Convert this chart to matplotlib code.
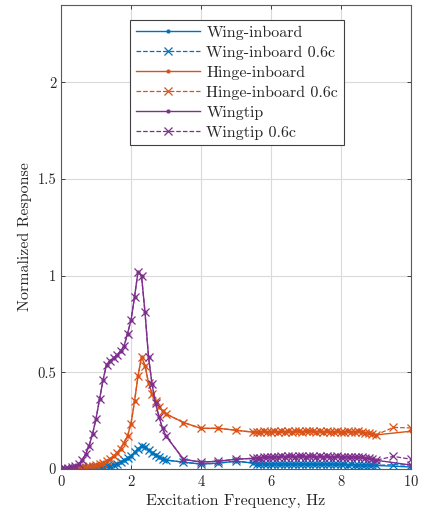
import matplotlib.pyplot as plt
import numpy as np

plt.rcParams['font.family'] = ['cmr10', 'DejaVu Serif']
plt.rcParams['axes.formatter.use_mathtext'] = True
plt.rcParams['mathtext.fontset'] = 'cm'

# excitation frequencies [Hz]
f_low = [0.0, 0.1, 0.2, 0.3, 0.4, 0.5, 0.6, 0.7, 0.8, 0.9, 1.0, 1.1, 1.2, 1.3, 1.4, 1.5,
         1.6, 1.7, 1.8, 1.9, 2.0, 2.1, 2.2, 2.3, 2.4, 2.5, 2.6, 2.7, 2.8, 2.9, 3.0]
f_mid = [3.5, 4.0, 4.5, 5.0]
f_dense = [5.5, 5.6, 5.7, 5.8, 5.9, 6.0, 6.1, 6.2, 6.3, 6.4, 6.5, 6.6, 6.7, 6.8, 6.9, 7.0,
           7.1, 7.2, 7.3, 7.4, 7.5, 7.6, 7.7, 7.8, 7.9, 8.0, 8.1, 8.2, 8.3, 8.4, 8.5, 8.6,
           8.7, 8.8, 8.9, 9.0]
f_end = [10.0]
f_end_06c = [9.5, 10.0]

# wing-inboard
wing_low = [0.0, 0.0, 0.0, 0.0, 0.002, 0.003, 0.004, 0.005, 0.006, 0.008, 0.009, 0.01, 0.011,
            0.013, 0.016, 0.02, 0.027, 0.035, 0.044, 0.055, 0.068, 0.085, 0.104, 0.12, 0.115,
            0.097, 0.083, 0.072, 0.062, 0.053, 0.046]
wing_mid = [0.035, 0.025, 0.03, 0.04]
wing_dense = [0.03, 0.028, 0.027, 0.028, 0.026, 0.027, 0.028, 0.026, 0.025, 0.027, 0.026, 0.025,
              0.026, 0.027, 0.025, 0.024, 0.026, 0.025, 0.024, 0.025, 0.026, 0.024, 0.023, 0.025,
              0.024, 0.023, 0.024, 0.022, 0.023, 0.022, 0.021, 0.022, 0.02, 0.021, 0.019, 0.018]
wing_end = [0.01]
wing_end_06c = [0.022, 0.02]

# hinge-inboard
hinge_low = [0.0, 0.0, 0.0, 0.002, 0.004, 0.005, 0.008, 0.01, 0.013, 0.016, 0.02, 0.025, 0.032,
             0.042, 0.053, 0.067, 0.083, 0.105, 0.135, 0.17, 0.235, 0.35, 0.48, 0.58, 0.535,
             0.445, 0.39, 0.35, 0.32, 0.3, 0.285]
hinge_mid = [0.24, 0.21, 0.21, 0.2]
hinge_dense = [0.19, 0.192, 0.19, 0.194, 0.191, 0.193, 0.195, 0.192, 0.194, 0.193, 0.195, 0.192,
               0.194, 0.196, 0.193, 0.195, 0.197, 0.194, 0.193, 0.195, 0.192, 0.194, 0.193, 0.191,
               0.194, 0.192, 0.193, 0.195, 0.191, 0.193, 0.194, 0.19, 0.188, 0.186, 0.182, 0.176]
hinge_end = [0.195]
hinge_end_06c = [0.215, 0.212]

# wingtip
tip_low = [0.0, 0.0, 0.004, 0.008, 0.015, 0.025, 0.045, 0.075, 0.12, 0.18, 0.26, 0.36, 0.46,
           0.54, 0.56, 0.575, 0.59, 0.61, 0.635, 0.7, 0.77, 0.89, 1.02, 1.0, 0.81, 0.58, 0.44,
           0.34, 0.27, 0.21, 0.17]
tip_mid = [0.05, 0.035, 0.04, 0.05]
tip_dense = [0.055, 0.057, 0.059, 0.06, 0.061, 0.062, 0.064, 0.063, 0.065, 0.064, 0.066, 0.065,
             0.064, 0.066, 0.065, 0.064, 0.066, 0.065, 0.063, 0.065, 0.064, 0.066, 0.064, 0.063,
             0.065, 0.064, 0.063, 0.064, 0.062, 0.063, 0.061, 0.06, 0.058, 0.055, 0.05, 0.045]
tip_end = [0.02]
tip_end_06c = [0.065, 0.05]

freq = f_low + f_mid + f_dense + f_end
freq_06c = f_low + f_mid + f_dense + f_end_06c

series = [
    ('Wing-inboard', '#0072BD', wing_low + wing_mid + wing_dense, wing_end, wing_end_06c),
    ('Hinge-inboard', '#D95319', hinge_low + hinge_mid + hinge_dense, hinge_end, hinge_end_06c),
    ('Wingtip', '#7E2F8E', tip_low + tip_mid + tip_dense, tip_end, tip_end_06c),
]

fig = plt.figure(figsize=(4.21, 5.17), dpi=100)
ax = fig.add_axes([0.145, 0.093, 0.831, 0.897])

for name, col, body, end, end06 in series:
    ax.plot(freq, body + end, '-', color=col, marker='.', markersize=4, lw=1.0, label=name)
    ax.plot(freq_06c, body + end06, '--', color=col, marker='x', markersize=6, lw=0.9,
            markeredgewidth=0.9, label=name + ' 0.6c')

ax.set_xlim(0, 10)
ax.set_ylim(0, 2.4)
ax.set_xticks([0, 2, 4, 6, 8, 10])
ax.set_yticks([0, 0.5, 1, 1.5, 2])
ax.set_yticklabels(['0', '0.5', '1', '1.5', '2'])
ax.grid(True, color='#dadada', lw=0.8)
ax.set_axisbelow(True)
ax.tick_params(direction='in', top=True, right=True, length=3, width=0.6,
               colors='#262626', labelsize=10.5, labelcolor='#262626')
for sp in ax.spines.values():
    sp.set_color('#5a5a5a')
    sp.set_linewidth(0.8)

ax.set_xlabel('Excitation Frequency, Hz', fontsize=11.5, color='#262626')
ax.set_ylabel('Normalized Response', fontsize=11.5, color='#262626')

leg = ax.legend(loc='upper center', bbox_to_anchor=(0.503, 0.985), fontsize=11.5,
                handlelength=4.0, labelspacing=0.36, borderpad=0.35, handletextpad=0.4,
                fancybox=False, framealpha=1.0, edgecolor='#404040')
leg.get_frame().set_linewidth(0.8)
for t in leg.get_texts():
    t.set_color('#262626')

fig.savefig('out.png', dpi=100)
